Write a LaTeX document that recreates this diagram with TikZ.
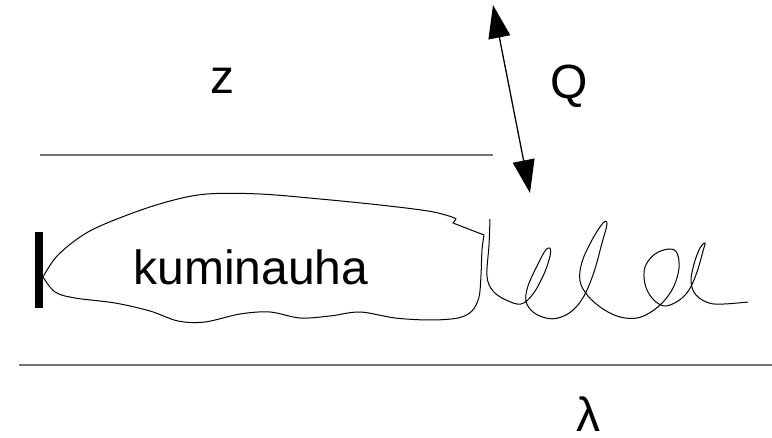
\documentclass[tikz,border=0pt]{standalone}
\usepackage{fontspec}
\setmainfont{Liberation Sans}
\usetikzlibrary{arrows.meta}
\begin{document}
\begin{tikzpicture}[x=1pt,y=-1pt,
  label/.style={inner sep=0pt,anchor=base,font=\fontsize{48}{56}\selectfont},
  rule/.style={draw=black!55,line width=2pt},
  sketch/.style={draw=black,line width=1pt,line join=round},
  pushpull/.style={draw=black,line width=1.3pt,
    {Triangle[length=33pt,width=22pt]}-{Triangle[length=33pt,width=22pt]}}]
\useasboundingbox (0,0) rectangle (772,438);

% horizontal boundaries
\coordinate (topL) at (40,155.5);
\coordinate (topR) at (493,155.5);
\coordinate (botL) at (19,365);
\coordinate (botR) at (772,365);
\draw[rule] (topL) -- (topR);
\draw[rule] (botL) -- (botR);

% wall bar at the left
\coordinate (wallT) at (39,232);
\coordinate (wallB) at (39,308);
\draw[line width=8pt] (wallT) -- (wallB);

% labels
\node[label] (z) at (222,94) {z};
\node[label] (Q) at (569,99) {Q};
\node[label] (lam) at (588,432) {λ};

% outline of the band
\draw[sketch]
  plot[smooth,tension=0.55] coordinates {(43,277) (58,255) (88,232) (130,214) (170,201) (207,194)
     (260,194) (320,199) (380,205) (428,211) (449,216) (456,219)}
  -- (453,223) -- (484,235)
  -- plot[smooth,tension=0.55] coordinates {(484,235) (482,250) (481,275) (479,297) (472,311)
     (458,318) (430,320) (395,318) (360,312) (330,316) (300,318) (270,312) (240,314)
     (205,322) (178,321) (150,311) (115,303) (75,298) (55,292) (43,277)}
  -- cycle;
\node[label] (band) at (251,285) {kuminauha};

% the coiled strand leaving the band
\draw[sketch] plot[smooth,tension=0.6] coordinates {
  (490,219) (489,245) (487,276) (493,291) (506,300) (521,304)
  (533,294) (544,274) (550,256) (550,248) (545,251) (537,266) (528,286) (526,301)
  (533,312) (546,318) (558,318) (572,311) (584,296) (594,272) (602,243) (607,224)
  (603,223) (592,240) (582,262) (580,281) (588,296) (603,309) (620,317) (637,318)
  (651,312) (664,301) (674,286) (679,268) (677,253) (669,249) (655,254) (645,267)
  (645,284) (652,298) (664,306) (678,301) (689,290) (697,272) (703,251) (705,243)
  (700,248) (694,264) (691,282) (696,295) (709,303) (724,304) (748,302)};

% reciprocating motion
\coordinate (qtop) at (493,5);
\coordinate (qbot) at (530,193);
\draw[pushpull] (qtop) -- (qbot);
\end{tikzpicture}
\end{document}
